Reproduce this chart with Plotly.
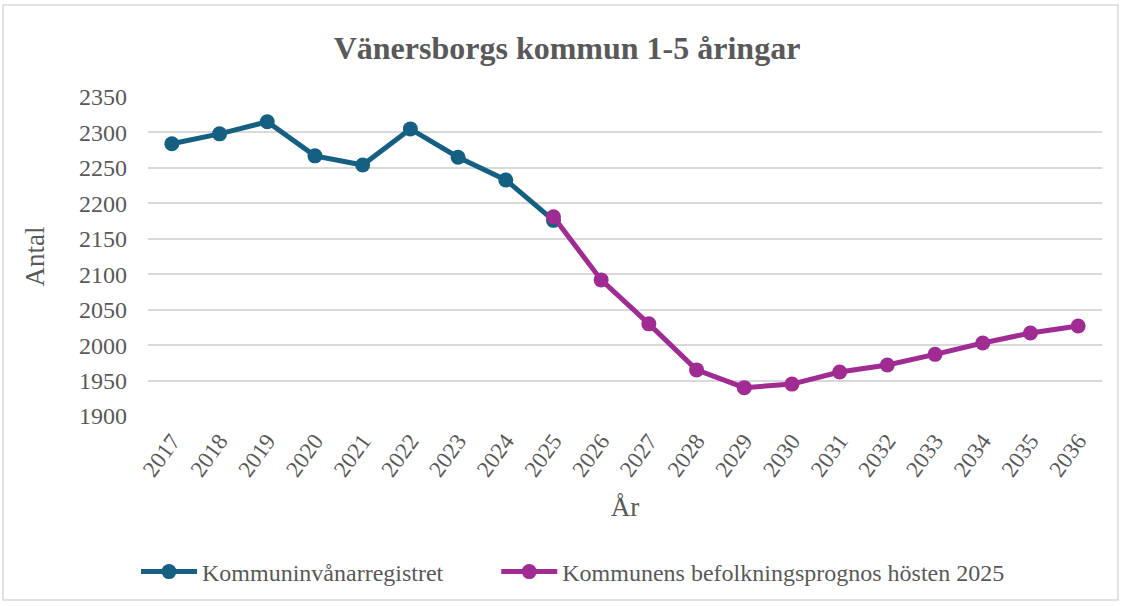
import plotly.graph_objects as go

years = [str(y) for y in range(2017, 2037)]
registry_years = years[:9]
registry_values = [2284, 2298, 2315, 2267, 2254, 2305, 2265, 2233, 2176]
forecast_years = years[8:]
forecast_values = [2181, 2092, 2030, 1965, 1940, 1945, 1962, 1972, 1987, 2003, 2017, 2027]
series_names = ["Kommuninvånarregistret", "Kommunens befolkningsprognos hösten 2025"]

FONT = "Liberation Serif, Times New Roman, serif"
GRAY = "#595959"
PAD = "\u00a0" * 8

fig = go.Figure()
fig.add_trace(go.Scatter(
    x=registry_years, y=registry_values, mode="lines+markers",
    name=series_names[0] + PAD,
    line=dict(color="#156082", width=5),
    marker=dict(color="#156082", size=15),
))
fig.add_trace(go.Scatter(
    x=forecast_years, y=forecast_values, mode="lines+markers",
    name=series_names[1],
    line=dict(color="#A02B93", width=5),
    marker=dict(color="#A02B93", size=15),
))

W, H = 1122, 606
L, R, T, B = 148, 20, 97, 190
pw, ph = W - L - R, H - T - B

def px_x(p):
    return (p - L) / pw

def px_y(p):
    return (H - B - p) / ph

fig.add_shape(type="rect", xref="paper", yref="paper",
              x0=px_x(3), x1=px_x(1118), y0=px_y(600), y1=px_y(5),
              line=dict(color="#d9d9d9", width=1.5), fillcolor="rgba(0,0,0,0)",
              layer="below")

fig.update_layout(
    width=W, height=H,
    margin=dict(l=L, r=R, t=T, b=B),
    paper_bgcolor="white", plot_bgcolor="white",
    font=dict(family=FONT, color=GRAY),
    title=dict(text="<b>Vänersborgs kommun 1-5 åringar</b>", xref="container", x=567 / W,
               xanchor="center", yref="container", y=1 - 48 / H, yanchor="middle",
               font=dict(family=FONT, size=32, color=GRAY)),
    showlegend=True,
    legend=dict(orientation="h", x=px_x(136), xanchor="left", y=px_y(572), yanchor="middle",
                font=dict(family=FONT, size=24, color=GRAY), itemwidth=56,
                tracegroupgap=0),
    xaxis=dict(type="category", categoryorder="array", categoryarray=years,
               range=[-0.5, 19.5], tickangle=-54, showgrid=False, showline=False,
               automargin=False, ticklabelstandoff=6,
               ticks="", tickfont=dict(family=FONT, size=23, color=GRAY),
               title=dict(text="År", font=dict(family=FONT, size=27, color=GRAY), standoff=16)),
    yaxis=dict(range=[1900, 2350], dtick=50, tick0=1900, showgrid=True,
               automargin=False,
               gridcolor="#d9d9d9", gridwidth=1.5, zeroline=False, showline=False,
               ticks="", ticklabelstandoff=20,
               tickfont=dict(family=FONT, size=24, color=GRAY),
               title=dict(text="Antal", font=dict(family=FONT, size=27, color=GRAY), standoff=26)),
)

fig.write_html("out.html", config={"displayModeBar": False},
               post_script="document.body.style.margin='0';document.body.style.overflow='hidden';")
